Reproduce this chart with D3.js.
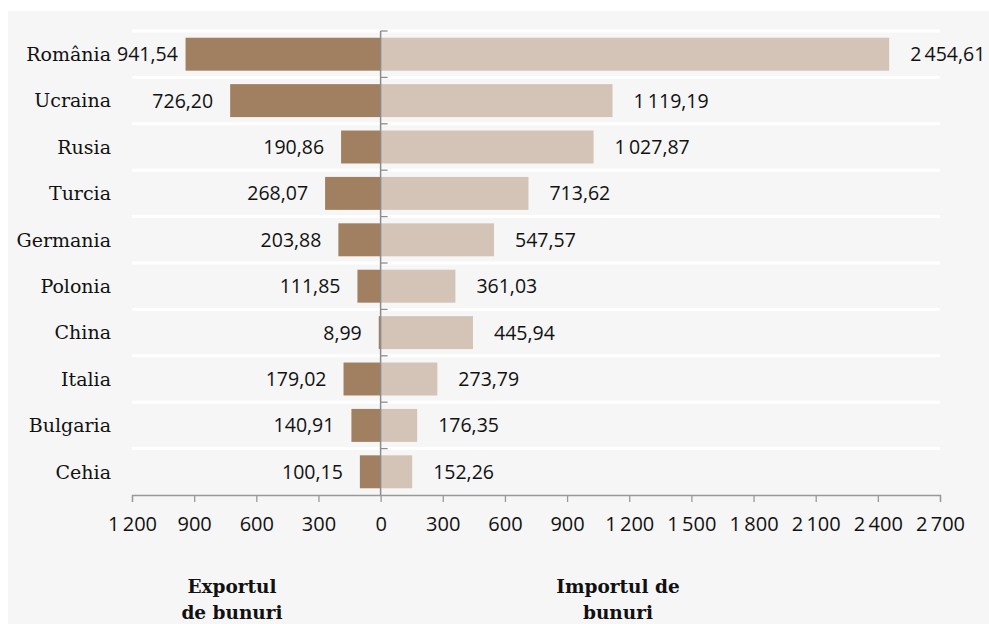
<!DOCTYPE html>
<html>
<head>
<meta charset="utf-8">
<script src="https://cdn.jsdelivr.net/npm/d3@7/dist/d3.min.js"></script>
<style>
  body { margin: 0; background: #fff; }
  svg { display: block; }
</style>
</head>
<body>
<svg width="989" height="624"></svg>
<script>
const countries = ['România', 'Ucraina', 'Rusia', 'Turcia', 'Germania', 'Polonia', 'China', 'Italia', 'Bulgaria', 'Cehia']
const exportValues = [941.54, 726.20, 190.86, 268.07, 203.88, 111.85, 8.99, 179.02, 140.91, 100.15]
const importValues = [2454.61, 1119.19, 1027.87, 713.62, 547.57, 361.03, 445.94, 273.79, 176.35, 152.26]
const tickValues = [-1200, -900, -600, -300, 0, 300, 600, 900, 1200, 1500, 1800, 2100, 2400, 2700]

const svg = d3.select('svg')
const serif = 'DejaVu Serif'
const sans = 'Open Sans'

const locale = d3.formatLocale({decimal: ',', thousands: '\u2009', grouping: [3], currency: ['', '']})
const fmtVal = locale.format(',.2f')
const fmtTick = locale.format(',d')

// panel background
svg.append('rect')
  .attr('x', 8).attr('y', 11)
  .attr('width', 989 - 8).attr('height', 624 - 11)
  .attr('fill', '#f6f6f6')

const x = d3.scaleLinear().domain([-1200, 2700]).range([132, 940])
const y = d3.scaleBand().domain(countries).range([31, 495]).paddingInner(0.29).paddingOuter(0.145)
const step = y.step()
const rowTop = 31

// white row separators
const bounds = d3.range(countries.length).map(i => rowTop + i * step)
svg.append('g').selectAll('line')
  .data(bounds)
  .enter().append('line')
    .attr('x1', x(-1200)).attr('x2', x(2700))
    .attr('y1', d => d).attr('y2', d => d)
    .attr('stroke', '#ffffff')
    .attr('stroke-width', 3)

// bars
const bars = svg.append('g')
bars.selectAll('rect.exp')
  .data(countries)
  .enter().append('rect')
    .attr('class', 'exp')
    .attr('x', (d, i) => x(-exportValues[i]))
    .attr('y', d => y(d))
    .attr('width', (d, i) => x(0) - x(-exportValues[i]))
    .attr('height', y.bandwidth())
    .attr('fill', '#a08060')

bars.selectAll('rect.imp')
  .data(countries)
  .enter().append('rect')
    .attr('class', 'imp')
    .attr('x', x(0))
    .attr('y', d => y(d))
    .attr('width', (d, i) => x(importValues[i]) - x(0))
    .attr('height', y.bandwidth())
    .attr('fill', '#d3c4b7')

// bottom axis
const xAxis = svg.append('g')
  .attr('transform', 'translate(0,495)')
  .call(d3.axisBottom(x).tickValues(tickValues).tickSizeOuter(0).tickSize(7).tickPadding(15)
    .tickFormat(d => fmtTick(Math.abs(d))))
xAxis.select('.domain').attr('stroke', '#999').attr('stroke-width', 1.3)
xAxis.selectAll('.tick line').attr('stroke', '#999').attr('stroke-width', 1.3)
xAxis.selectAll('text')
  .attr('fill', '#111')
  .style('font-family', sans)
  .style('font-size', '20px')

// center axis with ticks at row boundaries
const center = svg.append('g')
center.append('line')
  .attr('x1', x(0)).attr('x2', x(0))
  .attr('y1', rowTop).attr('y2', 495)
  .attr('stroke', '#8c8c8c').attr('stroke-width', 1.5)
center.selectAll('line.t')
  .data(bounds)
  .enter().append('line')
    .attr('class', 't')
    .attr('x1', x(0)).attr('x2', x(0) + 7)
    .attr('y1', d => d).attr('y2', d => d)
    .attr('stroke', '#8c8c8c').attr('stroke-width', 1.3)

// category labels
svg.append('g').selectAll('text')
  .data(countries)
  .enter().append('text')
    .attr('x', 111)
    .attr('y', d => y(d) + y.bandwidth() / 2)
    .attr('dy', '0.36em')
    .attr('text-anchor', 'end')
    .style('font-family', serif)
    .style('font-size', '19px')
    .attr('fill', '#111')
    .text(d => d)

// export value labels (kept clear of the category labels)
svg.append('g').selectAll('text')
  .data(countries)
  .enter().append('text')
    .attr('y', d => y(d) + y.bandwidth() / 2)
    .attr('dy', '0.36em')
    .attr('text-anchor', 'end')
    .style('font-family', sans)
    .style('font-size', '19.5px')
    .attr('fill', '#111')
    .text((d, i) => fmtVal(exportValues[i]))
    .attr('x', function (d, i) {
      const w = this.getComputedTextLength()
      return Math.max(x(-exportValues[i]) - 17, 117 + w)
    })

// import value labels
svg.append('g').selectAll('text')
  .data(countries)
  .enter().append('text')
    .attr('x', (d, i) => x(importValues[i]) + 21)
    .attr('y', d => y(d) + y.bandwidth() / 2)
    .attr('dy', '0.36em')
    .style('font-family', sans)
    .style('font-size', '19.5px')
    .attr('fill', '#111')
    .text((d, i) => fmtVal(importValues[i]))

// axis titles
const titles = [
  {cx: 232, lines: ['Exportul', 'de bunuri']},
  {cx: 618, lines: ['Importul de', 'bunuri']}
]
titles.forEach(t => {
  svg.append('text')
    .attr('text-anchor', 'middle')
    .style('font-family', serif)
    .style('font-size', '18.5px')
    .style('font-weight', 'bold')
    .attr('fill', '#111')
    .selectAll('tspan')
    .data(t.lines)
    .enter().append('tspan')
      .attr('x', t.cx)
      .attr('y', (d, i) => 593 + i * 26)
      .text(d => d)
})
</script>
</body>
</html>
